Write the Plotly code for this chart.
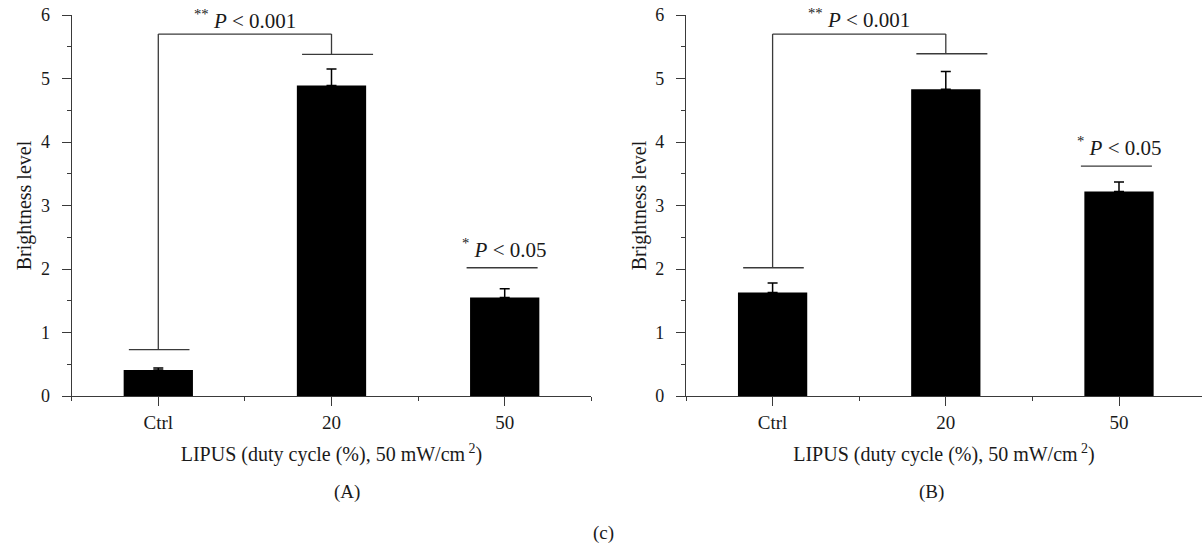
import plotly.graph_objects as go

# ---- data ----
categories = ["Ctrl", "20", "50"]
values_A = [0.41, 4.89, 1.55]
errors_A = [0.03, 0.26, 0.14]
values_B = [1.63, 4.83, 3.22]
errors_B = [0.15, 0.28, 0.15]
y_ticks = [0, 1, 2, 3, 4, 5, 6]

# significance annotation levels (data units)
brackets_A = {"ctrl": 0.73, "top": 5.70, "mid": 5.38, "right": 2.02, "txt_top": 5.93, "txt_right": 2.33}
brackets_B = {"ctrl": 2.02, "top": 5.70, "mid": 5.39, "right": 3.62, "txt_top": 5.94, "txt_right": 3.93}
panel_labels = ["(A)", "(B)"]

FONT = "Liberation Serif, Times New Roman, serif"
TXT = "#1a1a1a"
AX = "#3a3a3a"
W, H = 1202, 546

# pixel layout
px_left = [71.7, 686.0]
unit_px = 173.2
y0_px, y6_px = 396.0, 15.0

fig = go.Figure()
xpos = [0, 1, 2]

for i, (vals, errs) in enumerate([(values_A, errors_A), (values_B, errors_B)]):
    xa = "x" if i == 0 else "x2"
    ya = "y" if i == 0 else "y2"
    fig.add_trace(go.Bar(
        x=xpos, y=vals, width=0.40,
        marker=dict(color="#000000", line=dict(width=0)),
        error_y=dict(type="data", array=errs, arrayminus=[0]*len(errs),
                     color="#000000", thickness=1.5, width=5),
        xaxis=xa, yaxis=ya, showlegend=False, hoverinfo="y",
    ))

ydom = [(H - y0_px) / H, (H - y6_px) / H]

def xaxis_cfg(i):
    left = px_left[i]
    right = left + 3 * unit_px
    rng_end = 2.5
    if right > W:
        rng_end = 2.5 - (right - W) / unit_px
        right = W
    return dict(
        domain=[left / W, right / W], range=[-0.5, rng_end],
        tickmode="array", tickvals=xpos, ticktext=categories,
        ticks="outside", ticklen=9, tickwidth=1.3, tickcolor=AX,
        minor=dict(tickmode="array", tickvals=[-0.5, 0.5, 1.5, 2.5], ticks="outside",
                   ticklen=4, tickwidth=1.3, tickcolor=AX),
        showline=True, linecolor=AX, linewidth=1.3, showgrid=False, zeroline=False,
        tickfont=dict(family=FONT, size=19, color=TXT),
        title=dict(text="LIPUS (duty cycle (%), 50 mW/cm<sup> 2</sup>)",
                   font=dict(family=FONT, size=20, color=TXT), standoff=15),
        anchor="y" if i == 0 else "y2", fixedrange=True, automargin=False,
    )

def yaxis_cfg(i):
    return dict(
        domain=ydom, range=[0, 6],
        tickmode="array", tickvals=y_ticks,
        ticks="outside", ticklen=9, tickwidth=1.3, tickcolor=AX,
        minor=dict(tickmode="array", tickvals=[0.5, 1.5, 2.5, 3.5, 4.5, 5.5], ticks="outside",
                   ticklen=4, tickwidth=1.3, tickcolor=AX),
        showline=True, linecolor=AX, linewidth=1.3, showgrid=False, zeroline=False,
        ticklabelstandoff=8,
        tickfont=dict(family=FONT, size=18, color=TXT),
        title=dict(text="Brightness level", font=dict(family=FONT, size=20, color=TXT), standoff=3),
        anchor="x" if i == 0 else "x2", fixedrange=True, automargin=False,
    )

shapes = []
annotations = []
for i, br in enumerate([brackets_A, brackets_B]):
    xr = "x" if i == 0 else "x2"
    yr = "y" if i == 0 else "y2"
    ln = dict(color=AX, width=1.3)
    # bracket: Ctrl -> 20
    shapes.append(dict(type="line", xref=xr, yref=yr, x0=-0.17, x1=0.18, y0=br["ctrl"], y1=br["ctrl"], line=ln))
    shapes.append(dict(type="line", xref=xr, yref=yr, x0=0.0, x1=0.0, y0=br["ctrl"], y1=br["top"], line=ln))
    shapes.append(dict(type="line", xref=xr, yref=yr, x0=0.0, x1=1.0, y0=br["top"], y1=br["top"], line=ln))
    shapes.append(dict(type="line", xref=xr, yref=yr, x0=1.0, x1=1.0, y0=br["top"], y1=br["mid"], line=ln))
    shapes.append(dict(type="line", xref=xr, yref=yr, x0=0.83, x1=1.24, y0=br["mid"], y1=br["mid"], line=ln))
    # line over 50
    shapes.append(dict(type="line", xref=xr, yref=yr, x0=1.78, x1=2.19, y0=br["right"], y1=br["right"], line=ln))

    annotations.append(dict(xref=xr, yref=yr, x=0.5, y=br["txt_top"], showarrow=False,
                            text="<sup>**</sup> <i>P</i> &lt; 0.001",
                            font=dict(family=FONT, size=21, color=TXT)))
    annotations.append(dict(xref=xr, yref=yr, x=2.0, y=br["txt_right"], showarrow=False,
                            text="<sup>*</sup> <i>P</i> &lt; 0.05",
                            font=dict(family=FONT, size=21, color=TXT)))
    # panel label
    cx = (px_left[i] + 1.5 * unit_px) / W
    annotations.append(dict(xref="paper", yref="paper", x=cx, y=(H - 492) / H, yanchor="middle",
                            showarrow=False, text=panel_labels[i],
                            font=dict(family=FONT, size=19, color=TXT)))

annotations.append(dict(xref="paper", yref="paper", x=603 / W, y=(H - 533) / H, yanchor="middle",
                        showarrow=False, text="(c)", font=dict(family=FONT, size=19, color=TXT)))

fig.update_layout(
    width=W, height=H,
    margin=dict(l=0, r=0, t=0, b=0, autoexpand=False),
    paper_bgcolor="white", plot_bgcolor="white",
    font=dict(family=FONT, size=19, color=TXT),
    xaxis=xaxis_cfg(0), yaxis=yaxis_cfg(0),
    xaxis2=xaxis_cfg(1), yaxis2=yaxis_cfg(1),
    shapes=shapes, annotations=annotations,
    bargap=0.6,
)

fig.write_html("out.html", config={"displayModeBar": False},
               post_script="document.body.style.margin='0px';document.body.style.overflow='hidden';")
